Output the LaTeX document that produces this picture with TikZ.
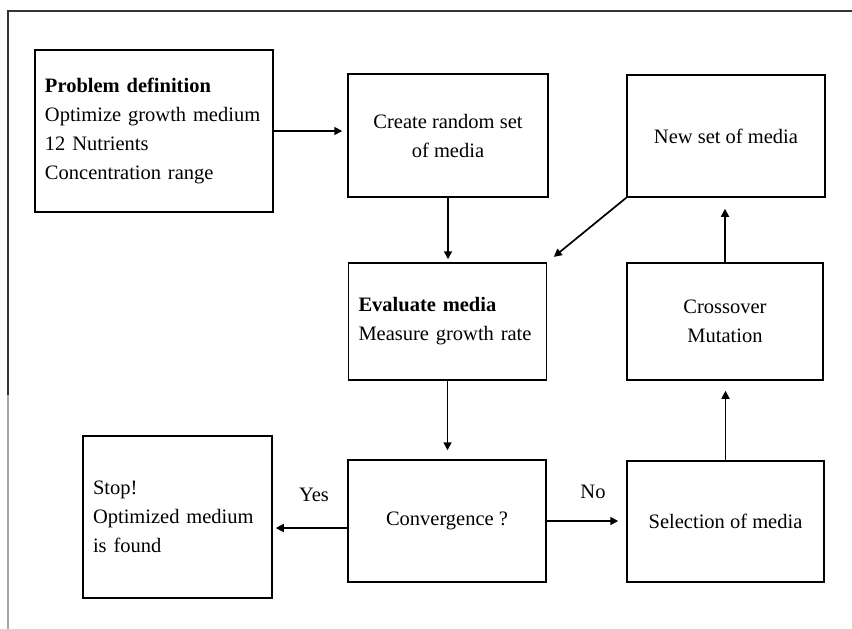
\documentclass[tikz,border=0pt]{standalone}
\usepackage{fontspec}
\setmainfont{Liberation Serif}
\usepackage{tikz}
\usetikzlibrary{arrows.meta,positioning}

\tikzset{
  stepbox/.style={draw=black, line width=1.5pt, rectangle, inner sep=0pt},
  leftbox/.style={stepbox, align=left, inner xsep=10pt, text width=#1},
  midbox/.style={stepbox, align=center},
  flow/.style={line width=1.7pt, -{Triangle[length=8pt,width=8pt]}}
}

\begin{document}
\begin{tikzpicture}[x=1pt,y=1pt,font=\fontsize{20.5}{29}\selectfont]
                    \useasboundingbox (0,0) rectangle (852,-629);
                    % outer frame (top and left only)
                    \draw [black!80, line width=1.2pt] (852,-11) -- (8,-11) -- (8,-395);
                    \draw [black!35, line width=1.2pt] (8,-395) -- (8,-629);
                    % boxes
                    \node [leftbox=218pt, minimum width=238pt, minimum height=162pt] (prob) at (154,-131)
                      {\textbf{Problem definition}\\Optimize growth medium\\12 Nutrients\\Concentration range};
                    \node [midbox, minimum width=200pt, minimum height=123pt] (create) at (448,-135.5)
                      {Create random set\\of media};
                    \node [midbox, minimum width=198pt, minimum height=122pt] (newset) at (726,-136)
                      {New set of media};
                    \node [leftbox=178pt, minimum width=197pt, minimum height=117pt] (eval) at (447.5,-321.5)
                      {\textbf{Evaluate media}\\Measure growth rate};
                    \node [midbox, minimum width=196pt, minimum height=117pt] (cross) at (725,-321.5)
                      {Crossover\\Mutation};
                    \node [leftbox=169pt, minimum width=189pt, minimum height=162pt] (stop) at (177.5,-517)
                      {Stop!\\Optimized medium\\is found};
                    \node [midbox, minimum width=198pt, minimum height=122pt] (conv) at (447,-521)
                      {Convergence ?};
                    \node [midbox, minimum width=197pt, minimum height=121pt] (sel) at (725.5,-521.5)
                      {Selection of media};
                    % connectors
                    \draw [flow, shorten >=5pt] (prob.east) -- (prob.east -| create.west);
                    \draw [flow, shorten >=3pt] (create.south) -- (create.south |- eval.north);
                    \draw [flow, shorten >=8.5pt] (newset.south west) -- (eval.north east);
                    \draw [flow, shorten >=9pt] (eval.south) -- (eval.south |- conv.north);
                    \draw [flow, shorten >=3pt] ([yshift=-7pt]conv.west) -- ([yshift=-7pt]conv.west -| stop.east);
                    \draw [flow, shorten >=8pt] (conv.east) -- (conv.east -| sel.west);
                    \draw [flow, shorten >=10pt] (sel.north) -- (sel.north |- cross.south);
                    \draw [flow, shorten >=11pt] (cross.north) -- (cross.north |- newset.south);
                    % branch labels
                    \node (yes) at (314,-495) {Yes};
                    \node (no) at (593,-492) {No};
\end{tikzpicture}
\end{document}
